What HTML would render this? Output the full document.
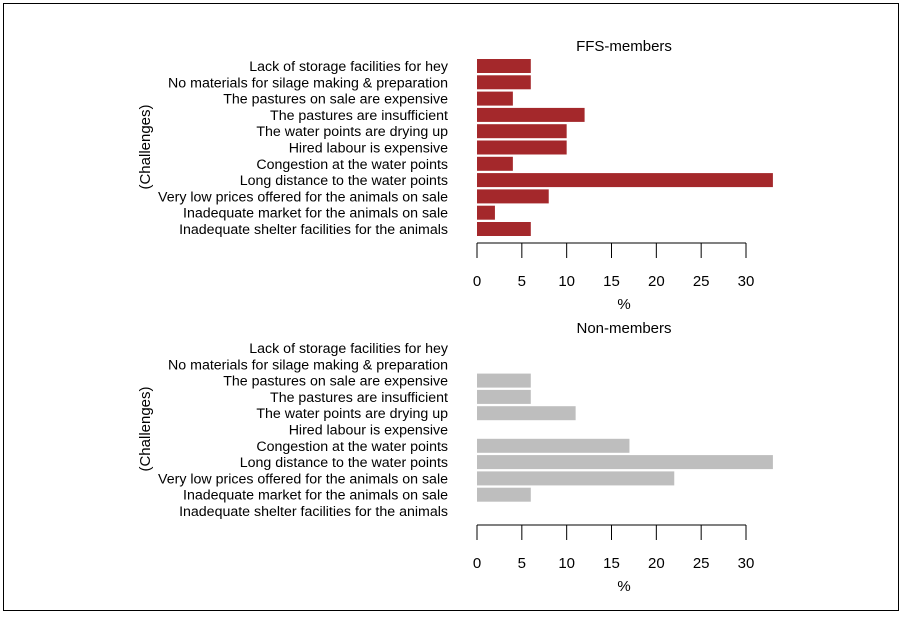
<!DOCTYPE html>
<html><head><meta charset="utf-8"><style>
body{margin:0;background:#fff;}
svg text{font-family:"Liberation Sans",sans-serif;fill:#000;}
</style></head><body>
<svg id="c" width="903" height="616">
<rect x="3.5" y="3.5" width="895" height="607" fill="#fff" stroke="#000" stroke-width="1"/>
</svg>
<script>
const categories=["Lack of storage facilities for hey","No materials for silage making & preparation","The pastures on sale are expensive","The pastures are insufficient","The water points are drying up","Hired labour is expensive","Congestion at the water points","Long distance to the water points","Very low prices offered for the animals on sale","Inadequate market for the animals on sale","Inadequate shelter facilities for the animals "];
const ffsValues=[6,6,4,12,10,10,4,33,8,2,6];
const nonValues=[0,0,6,6,11,0,17,33,22,6,0];
const tickLabels=[0,5,10,15,20,25,30];
const svg=document.getElementById('c');
const NS='http://www.w3.org/2000/svg';
function mk(t,a,txt){const e=document.createElementNS(NS,t);for(const k in a)e.setAttribute(k,a[k]);if(txt!==undefined)e.textContent=txt;svg.appendChild(e);return e;}
const x=v=>477+v*(746-477)/30;
function panel(vals,top,title,color,key){
  const y=i=>top+i*16.3;
  let t=mk('text',{x:624,y:top-15,'font-size':15,'text-anchor':'middle'},title);
  
  
  categories.forEach((c,i)=>{
    let l=mk('text',{x:448,y:y(i)+5,'font-size':14.2,'text-anchor':'end'},c);
    
    
    if(vals[i]>0){
      let b=mk('rect',{x:x(0),y:y(i)-7,width:x(vals[i])-x(0),height:14,fill:color});
      
      
    }
  });
  const ay=top+177;
  let ax=mk('line',{x1:x(0),x2:x(30),y1:ay,y2:ay,stroke:'#000'});
  
  
  tickLabels.forEach(v=>{
    let tk=mk('line',{x1:x(v),x2:x(v),y1:ay,y2:ay+15,stroke:'#000'});
    
    
    let tl=mk('text',{x:x(v),y:ay+43,'font-size':15,'text-anchor':'middle'},v);
    
    
  });
  let xt=mk('text',{x:624,y:ay+66,'font-size':15,'text-anchor':'middle'},'%');
  
  
  const cy=top+81;
  let yt=mk('text',{x:150,y:cy,'font-size':15,'text-anchor':'middle',transform:'rotate(-90 150 '+cy+')'},'(Challenges)');
  
  
}
panel(ffsValues,66,'FFS-members','#a4282b','ffs');
panel(nonValues,348,'Non-members','#bebebe','non');
</script>
</body></html>
